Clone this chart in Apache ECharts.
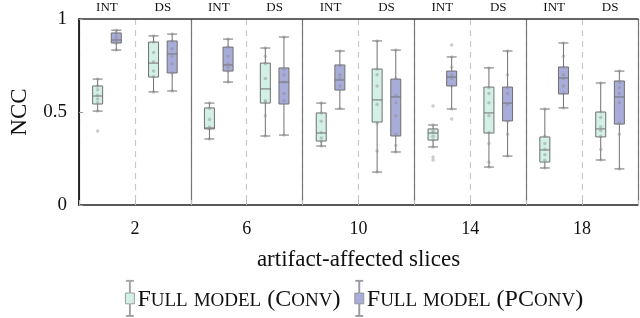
<!DOCTYPE html>
<html>
<head>
<meta charset="utf-8">
<script src="https://cdn.jsdelivr.net/npm/echarts@6/dist/echarts.min.js"></script>
<style>html,body{margin:0;padding:0;background:#fff}#c{width:640px;height:318px}</style>
</head>
<body>
<div id="c"></div>
<script>
// ---- data ----
const groups = ['2', '6', '10', '14', '18'];
const halves = ['INT', 'DS', 'INT', 'DS', 'INT', 'DS', 'INT', 'DS', 'INT', 'DS'];
// x positions (data units, 6 per group): order INT g1, DS g1, INT g2, ...
const convPos = [1, 4, 7, 10, 13, 16, 19, 22, 25, 28];
const pconvPos = [2, 5, 8, 11, 14, 17, 20, 23, 26, 29];
// [min, Q1, median, Q3, max]
const convBoxes = [
  [0.505, 0.543, 0.586, 0.640, 0.677],
  [0.608, 0.688, 0.763, 0.876, 0.909],
  [0.355, 0.409, 0.414, 0.522, 0.548],
  [0.371, 0.548, 0.624, 0.763, 0.844],
  [0.317, 0.344, 0.387, 0.495, 0.548],
  [0.177, 0.446, 0.565, 0.731, 0.882],
  [0.312, 0.349, 0.387, 0.409, 0.430],
  [0.204, 0.387, 0.495, 0.634, 0.737],
  [0.199, 0.231, 0.296, 0.366, 0.516],
  [0.242, 0.366, 0.409, 0.500, 0.656]
];
const pconvBoxes = [
  [0.833, 0.871, 0.887, 0.925, 0.940],
  [0.613, 0.710, 0.812, 0.882, 0.919],
  [0.661, 0.720, 0.753, 0.849, 0.892],
  [0.376, 0.543, 0.661, 0.737, 0.903],
  [0.516, 0.618, 0.672, 0.753, 0.828],
  [0.285, 0.371, 0.581, 0.677, 0.833],
  [0.516, 0.640, 0.688, 0.720, 0.796],
  [0.263, 0.452, 0.548, 0.634, 0.828],
  [0.522, 0.597, 0.683, 0.742, 0.871],
  [0.194, 0.435, 0.581, 0.667, 0.720]
];
// individual samples (grey dots)
const convPoints = [
  [0.677, 0.64, 0.62, 0.59, 0.57, 0.55, 0.505, 0.398],
  [0.909, 0.876, 0.82, 0.77, 0.72, 0.69, 0.608],
  [0.548, 0.52, 0.46, 0.42, 0.41, 0.355],
  [0.844, 0.80, 0.76, 0.68, 0.56, 0.55, 0.48, 0.371],
  [0.548, 0.495, 0.45, 0.39, 0.36, 0.34, 0.317],
  [0.882, 0.73, 0.70, 0.64, 0.54, 0.44, 0.29, 0.177],
  [0.532, 0.43, 0.40, 0.39, 0.37, 0.35, 0.312, 0.258, 0.242],
  [0.737, 0.63, 0.60, 0.55, 0.48, 0.39, 0.33, 0.23, 0.204],
  [0.516, 0.37, 0.33, 0.30, 0.27, 0.24, 0.199],
  [0.656, 0.50, 0.47, 0.42, 0.40, 0.37, 0.30, 0.242]
];
const pconvPoints = [
  [0.94, 0.92, 0.90, 0.885, 0.87, 0.833],
  [0.919, 0.88, 0.84, 0.80, 0.76, 0.71, 0.613],
  [0.892, 0.85, 0.80, 0.76, 0.74, 0.72, 0.661],
  [0.903, 0.73, 0.70, 0.66, 0.60, 0.56, 0.376],
  [0.828, 0.75, 0.70, 0.68, 0.64, 0.52],
  [0.833, 0.68, 0.59, 0.55, 0.48, 0.38, 0.32, 0.285],
  [0.86, 0.796, 0.74, 0.70, 0.68, 0.64, 0.516, 0.462],
  [0.828, 0.70, 0.63, 0.60, 0.54, 0.45, 0.38, 0.263],
  [0.871, 0.80, 0.74, 0.70, 0.68, 0.64, 0.60, 0.522],
  [0.72, 0.66, 0.63, 0.60, 0.55, 0.44, 0.38, 0.194]
];
const yTicks = [0, 0.5, 1];
const seriesNames = ['Full model (Conv)', 'Full model (PConv)'];

// ---- chart ----
const SERIF = '"Liberation Serif", "DejaVu Serif", serif';
const CONV_COLOR = '#d3f0e7';
const PCONV_COLOR = '#a8acd9';
const chart = echarts.init(document.getElementById('c'), null, { renderer: 'canvas' });

function boxData(pos, boxes) { return boxes.map((b, i) => [pos[i]].concat(b)); }
function pointData(pos, pts) {
  const out = [];
  pts.forEach((arr, i) => arr.forEach(v => out.push([pos[i], v])));
  return out;
}

const legendIcon = 'path://M1,0H9V1H5.5V14H10V26H5.5V39H9V40H1V39H4.5V26H0V14H4.5V1H1Z';
const capsRich = {
  b: { fontFamily: SERIF, fontSize: 24, color: '#111', lineHeight: 26, verticalAlign: 'bottom' },
  s: { fontFamily: SERIF, fontSize: 19, color: '#111', lineHeight: 26, verticalAlign: 'bottom', padding: [0, 0, 1, 0] }
};
function smallCaps(name) {
  let out = '';
  for (const ch of name) {
    if (ch >= 'a' && ch <= 'z') out += '{s|' + ch.toUpperCase() + '}';
    else out += '{b|' + ch + '}';
  }
  return out;
}

const option = {
  animation: false,
  grid: { left: 77, right: 2, top: 19, bottom: 113, show: false },
  legend: {
    data: [
      { name: seriesNames[0], itemStyle: { color: CONV_COLOR, borderColor: '#8a8a8a', borderWidth: 0.8 } },
      { name: seriesNames[1], itemStyle: { color: PCONV_COLOR, borderColor: '#8a8a8a', borderWidth: 0.8 } }
    ],
    top: 275,
    left: 120,
    itemWidth: 9,
    itemHeight: 44,
    itemGap: 14,
    icon: legendIcon,
    formatter: smallCaps,
    textStyle: { rich: capsRich, padding: [0, 0, 0, -2] }
  },
  xAxis: [
    {
      type: 'value', min: 0, max: 30, interval: 3, position: 'bottom',
      axisLine: { show: true, lineStyle: { color: '#222', width: 1.5 } },
      axisTick: { show: true, inside: true, length: 5, lineStyle: { color: '#bbb' } },
      axisLabel: { show: false },
      splitLine: { show: true, lineStyle: { color: '#c8c8c8', width: 1.2, type: [6, 5] } }
    },
    { type: 'value', min: 0, max: 30, show: false },
    {
      type: 'category', data: groups, position: 'bottom',
      axisLine: { show: false }, axisTick: { show: false },
      axisLabel: { fontFamily: SERIF, fontSize: 18, color: '#111', margin: 15 },
      splitLine: { show: true, lineStyle: { color: '#777', width: 1.2 } },
      name: 'artifact-affected slices', nameLocation: 'middle', nameGap: 43,
      nameTextStyle: { fontFamily: SERIF, fontSize: 23, color: '#111' }
    },
    {
      type: 'category', data: halves, position: 'top',
      axisLine: { show: true, lineStyle: { color: '#333', width: 1.5 } },
      axisTick: { show: false },
      axisLabel: { fontFamily: SERIF, fontSize: 13, color: '#111', margin: 5 },
      splitLine: { show: false }
    }
  ],
  yAxis: [
    {
      type: 'value', min: 0, max: 1, interval: 0.5,
      axisLine: { show: true, lineStyle: { color: '#222', width: 1.5 } },
      axisTick: { show: true, inside: true, length: 4, lineStyle: { color: '#999' } },
      axisLabel: { fontFamily: SERIF, fontSize: 19, color: '#111', margin: 12 },
      splitLine: { show: false },
      name: 'NCC', nameLocation: 'middle', nameGap: 48, nameRotate: 90,
      nameTextStyle: { fontFamily: SERIF, fontSize: 23, color: '#111' }
    },
    {
      type: 'value', min: 0, max: 1, position: 'right',
      axisLine: { show: true, lineStyle: { color: '#222', width: 1.5 } },
      axisTick: { show: false }, axisLabel: { show: false }, splitLine: { show: false }
    }
  ],
  series: [
    {
      name: seriesNames[0], type: 'boxplot', xAxisIndex: 0, yAxisIndex: 0,
      boxWidth: [10, 10],
      itemStyle: { color: CONV_COLOR, borderColor: '#707070', borderWidth: 1 },
      data: boxData(convPos, convBoxes), z: 3
    },
    {
      name: seriesNames[1], type: 'boxplot', xAxisIndex: 1, yAxisIndex: 0,
      boxWidth: [10, 10],
      itemStyle: { color: PCONV_COLOR, borderColor: '#707070', borderWidth: 1 },
      data: boxData(pconvPos, pconvBoxes), z: 3
    },
    {
      type: 'scatter', xAxisIndex: 0, yAxisIndex: 0, symbolSize: 3.5, z: 4,
      itemStyle: { color: 'rgba(140,140,140,0.55)' },
      data: pointData(convPos, convPoints)
    },
    {
      type: 'scatter', xAxisIndex: 0, yAxisIndex: 0, symbolSize: 3.5, z: 4,
      itemStyle: { color: 'rgba(140,140,140,0.55)' },
      data: pointData(pconvPos, pconvPoints)
    }
  ]
};
chart.setOption(option);
</script>
</body>
</html>
